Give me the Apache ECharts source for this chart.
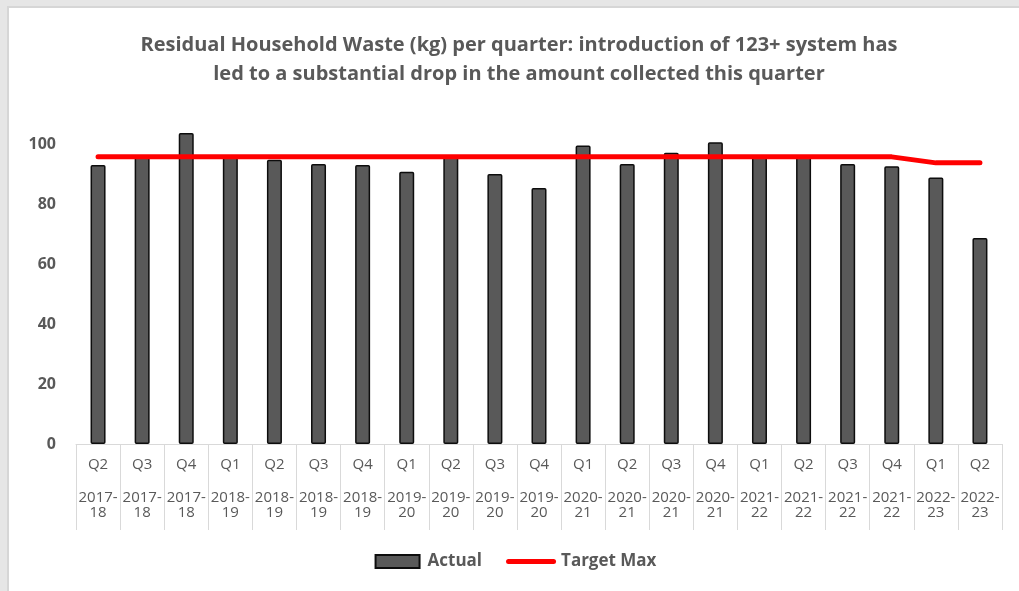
<!DOCTYPE html>
<html>
<head>
<meta charset="utf-8">
<script src="https://cdn.jsdelivr.net/npm/echarts@6/dist/echarts.min.js"></script>
<style>
  html, body { margin: 0; padding: 0; width: 1019px; height: 591px; background: #e6e6e6; overflow: hidden; }
  #frame { position: absolute; left: 7px; top: 6px; width: 1012px; height: 585px; border-left: 2px solid #d6d6d6; border-top: 2px solid #d6d6d6; background: #fff; }
  #chart { width: 1010px; height: 583px; }
</style>
</head>
<body>
<div id="frame"><div id="chart"></div></div>
<script>
// 季度 / 财年
const quarters = ['Q2', 'Q3', 'Q4', 'Q1', 'Q2', 'Q3', 'Q4', 'Q1', 'Q2', 'Q3', 'Q4',
  'Q1', 'Q2', 'Q3', 'Q4', 'Q1', 'Q2', 'Q3', 'Q4', 'Q1', 'Q2']
const years = ['2017-18', '2017-18', '2017-18', '2018-19', '2018-19', '2018-19', '2018-19',
  '2019-20', '2019-20', '2019-20', '2019-20', '2020-21', '2020-21', '2020-21', '2020-21',
  '2021-22', '2021-22', '2021-22', '2021-22', '2022-23', '2022-23']

// kg per household
const actual = [93.3, 96, 104, 96, 95, 93.6, 93.3, 91, 96, 90.3, 85.6,
  99.8, 93.6, 97.4, 100.9, 96, 96, 93.6, 92.9, 89.1, 68.9]
const targetMax = [96, 96, 96, 96, 96, 96, 96, 96, 96, 96, 96,
  96, 96, 96, 96, 96, 96, 96, 96, 94, 94]

const yTicks = [0, 20, 40, 60, 80, 100]

const textColor = '#595959'
const font = '"Open Sans", "Liberation Sans", sans-serif'

// 图例图标（留白让两个图标宽度一致）
const barIcon = 'path://M0,0L0,0M50,0L50,0M3,0L47,0L47,13L3,13Z'
const lineIcon = 'path://M0,0L0,0M50,13L50,13M2.5,4L47.5,4A2.5,2.5,0,0,1,47.5,9L2.5,9A2.5,2.5,0,0,1,2.5,4Z'

const chart = echarts.init(document.getElementById('chart'))

const option = {
  animation: false,
  title: {
    text: 'Residual Household Waste (kg) per quarter: introduction of 123+ system has\nled to a substantial drop in the amount collected this quarter',
    left: 505,
    top: 18,
    textAlign: 'center',
    textStyle: {
      color: textColor,
      fontFamily: font,
      fontWeight: 'bold',
      fontSize: 20,
      lineHeight: 29
    }
  },
  legend: {
    bottom: 16,
    left: 'center',
    itemGap: 24,
    itemWidth: 50,
    itemHeight: 13,
    textStyle: { color: textColor, fontFamily: font, fontWeight: 'bold', fontSize: 17, padding: [0, 0, 0, 0] },
    data: [
      { name: 'Actual', icon: barIcon },
      { name: 'Target Max', icon: lineIcon, itemStyle: { color: '#ff0000', borderWidth: 0 } }
    ]
  },
  grid: {
    left: 67,
    right: 17,
    top: 107,
    bottom: 147
  },
  xAxis: {
    type: 'category',
    data: quarters,
    axisLine: { show: true, lineStyle: { color: '#d9d9d9', width: 1 } },
    axisTick: { show: true, interval: 0, length: 86, lineStyle: { color: '#d9d9d9', width: 1 } },
    axisLabel: {
      interval: 0,
      margin: -4,
      formatter: (v, i) => {
        const parts = years[i].split('-')
        return `{q|${v}}\n{y|${parts[0]}-}\n{y|${parts[1]}}`
      },
      rich: {
        q: { color: textColor, fontFamily: font, fontSize: 15, lineHeight: 50 },
        y: { color: textColor, fontFamily: font, fontSize: 15, lineHeight: 15 }
      }
    }
  },
  yAxis: {
    type: 'value',
    min: yTicks[0],
    max: 110,
    interval: 20,
    splitLine: { show: false },
    axisLine: { show: false },
    axisTick: { show: false },
    axisLabel: {
      showMaxLabel: false,
      margin: 20,
      color: textColor,
      fontFamily: font,
      fontSize: 16,
      fontWeight: 'bold'
    }
  },
  series: [
    {
      name: 'Actual',
      type: 'bar',
      data: actual,
      barWidth: 15,
      itemStyle: {
        color: '#595959',
        borderColor: '#0d0d0d',
        borderWidth: 1.5,
        borderRadius: 1
      }
    },
    {
      name: 'Target Max',
      type: 'line',
      data: targetMax,
      symbol: 'none',
      itemStyle: { color: '#ff0000' },
      lineStyle: { color: '#ff0000', width: 5, cap: 'round', join: 'round' }
    }
  ]
}

chart.setOption(option)
</script>
</body>
</html>
